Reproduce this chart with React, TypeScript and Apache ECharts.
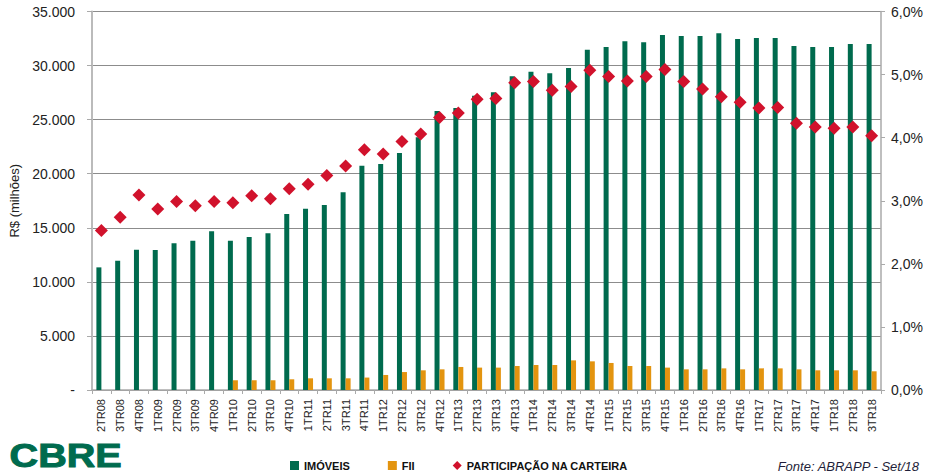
import React, { useEffect, useRef } from "react";
import * as echarts from "echarts";

const categories = [
  "2TR08", "3TR08", "4TR08", "1TR09", "2TR09", "3TR09", "4TR09",
  "1TR10", "2TR10", "3TR10", "4TR10", "1TR11", "2TR11", "3TR11", "4TR11",
  "1TR12", "2TR12", "3TR12", "4TR12", "1TR13", "2TR13", "3TR13", "4TR13",
  "1TR14", "2TR14", "3TR14", "4TR14", "1TR15", "2TR15", "3TR15", "4TR15",
  "1TR16", "2TR16", "3TR16", "4TR16", "1TR17", "2TR17", "3TR17", "4TR17",
  "1TR18", "2TR18", "3TR18",
];

const imoveis = [
  11340, 11950, 12970, 12950, 13560, 13800, 14670,
  13800, 14150, 14490, 16270, 16770, 17100, 18280, 20740,
  20900, 21920, 23370, 25800, 26080, 27210, 27530, 29010,
  29430, 29280, 29780, 31470, 31720, 32240, 32150, 32830,
  32740, 32740, 32990, 32460, 32550, 32550, 31810, 31720,
  31720, 32000, 32000,
];

const fii = [
  null, null, null, null, null, null, null,
  900, 900, 900, 990, 1080, 1080, 1080, 1150,
  1390, 1660, 1820, 1910, 2130, 2070, 2070, 2220,
  2310, 2310, 2740, 2650, 2500, 2220, 2220, 2070,
  1910, 1910, 2000, 1910, 2000, 2000, 1910, 1820,
  1820, 1820, 1730,
];

const participacao = [
  2.53, 2.74, 3.09, 2.87, 2.99, 2.92, 2.99,
  2.97, 3.08, 3.03, 3.19, 3.26, 3.40, 3.55, 3.81,
  3.74, 3.94, 4.06, 4.32, 4.39, 4.61, 4.62, 4.87,
  4.89, 4.75, 4.81, 5.07, 4.97, 4.90, 4.97, 5.08,
  4.89, 4.77, 4.65, 4.56, 4.47, 4.48, 4.23, 4.17,
  4.15, 4.17, 4.03,
];

const GREEN = "#006B4E";
const ORANGE = "#E3940F";
const RED = "#D1122C";
const FONT = "'Liberation Sans', Arial, sans-serif";

export default function App() {
  const ref = useRef<HTMLDivElement>(null);

  useEffect(() => {
    if (!ref.current) return;
    const chart = echarts.init(ref.current, null, { renderer: "svg" });
    chart.setOption({
      animation: false,
      backgroundColor: "#ffffff",
      textStyle: { fontFamily: FONT },
      grid: { left: 92, right: 48, top: 11.5, bottom: 86 },
      legend: {
        left: 285,
        top: 455,
        itemGap: 38,
        itemWidth: 9,
        itemHeight: 9,
        textStyle: { fontFamily: FONT, fontSize: 11, fontWeight: "bold", color: "#111" },
        data: [
          { name: "IMÓVEIS", icon: "rect" },
          { name: "FII", icon: "rect" },
          { name: "PARTICIPAÇÃO NA CARTEIRA", icon: "diamond" },
        ],
      },
      xAxis: {
        type: "category",
        data: categories,
        axisLine: { lineStyle: { color: "#aaaaaa", width: 1.5 } },
        axisTick: { show: true, alignWithLabel: false, length: 4, lineStyle: { color: "#aaaaaa" } },
        axisLabel: { rotate: 90, fontSize: 11, color: "#222", fontFamily: FONT, interval: 0, margin: 9 },
      },
      yAxis: [
        {
          type: "value",
          min: 0,
          max: 35000,
          interval: 5000,
          name: "R$ (milhões)",
          nameLocation: "middle",
          nameGap: 70,
          nameTextStyle: { fontSize: 13, color: "#222", fontFamily: FONT },
          axisLine: { show: true, lineStyle: { color: "#bbbbbb", width: 2 } },
          axisTick: { show: true, length: 5, lineStyle: { color: "#aaaaaa" } },
          splitLine: { lineStyle: { color: "#8c8c8c", width: 1 } },
          axisLabel: {
            fontSize: 14,
            color: "#222",
            fontFamily: FONT,
            margin: 17,
            formatter: (v: number) =>
              v === 0 ? "-" : v.toString().replace(/\B(?=(\d{3})+(?!\d))/g, "."),
          },
        },
        {
          type: "value",
          min: 0,
          max: 6,
          interval: 1,
          position: "right",
          axisLine: { show: true, lineStyle: { color: "#aaaaaa", width: 1.5 } },
          axisTick: { show: true, length: 4, lineStyle: { color: "#aaaaaa" } },
          splitLine: { show: false },
          axisLabel: {
            fontSize: 14,
            color: "#222",
            fontFamily: FONT,
            margin: 10,
            formatter: (v: number) => v.toFixed(1).replace(".", ",") + "%",
          },
        },
      ],
      series: [
        {
          name: "IMÓVEIS",
          type: "bar",
          data: imoveis,
          barWidth: 5,
          barGap: "0%",
          itemStyle: { color: GREEN },
        },
        {
          name: "FII",
          type: "bar",
          data: fii,
          barWidth: 5,
          barGap: "0%",
          itemStyle: { color: ORANGE },
        },
        {
          name: "PARTICIPAÇÃO NA CARTEIRA",
          type: "scatter",
          yAxisIndex: 1,
          data: participacao,
          symbol: "diamond",
          symbolSize: 13,
          itemStyle: { color: RED, opacity: 1 },
          z: 5,
        },
      ],
      graphic: [
        {
          type: "text",
          left: 9,
          top: 439,
          scaleX: 1.2,
          style: {
            text: "CBRE",
            fontSize: 33,
            fontWeight: 900,
            fontFamily: FONT,
            fill: GREEN,
            stroke: GREEN,
            lineWidth: 1,
          },
        },
        {
          type: "text",
          right: 9,
          top: 460,
          style: {
            text: "Fonte: ABRAPP - Set/18",
            fontSize: 13,
            fontStyle: "italic",
            fontFamily: FONT,
            fill: "#1f1f3a",
          },
        },
      ],
    });
    return () => chart.dispose();
  }, []);

  return (
    <div
      ref={ref}
      style={{ position: "fixed", left: 0, top: 0, width: 929, height: 476 }}
    />
  );
}
